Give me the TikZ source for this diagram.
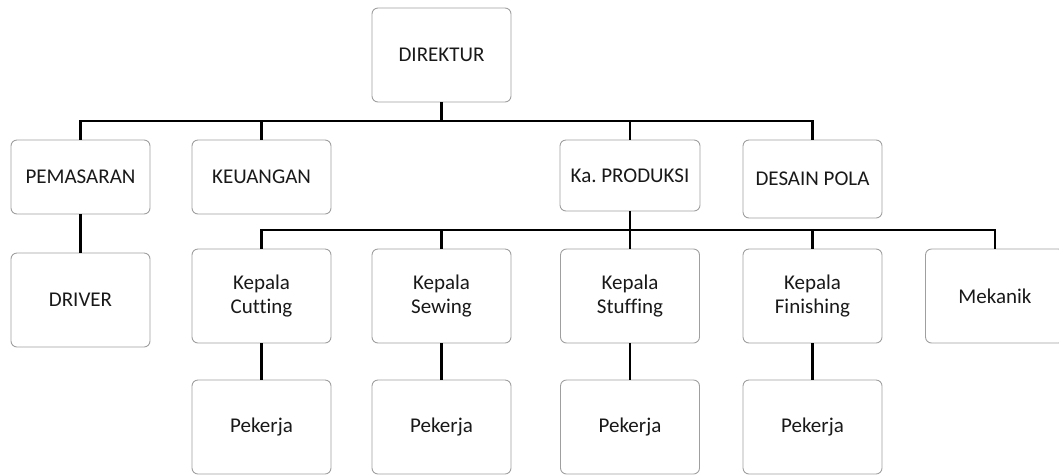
\documentclass[tikz,border=0pt]{standalone}
\usepackage{fontspec}
\setmainfont{Carlito}[Ligatures=NoCommon]
\begin{document}
\begin{tikzpicture}[x=1pt,y=-1pt,
  unit/.style={draw=gray!75,rounded corners=6pt,line width=0.9pt,
    minimum width=139pt,minimum height=94pt,inner sep=2pt,align=center,
    text=black!90,font=\fontsize{21}{24}\selectfont},
  link/.style={line width=2.6pt}]
\clip (0,0) rectangle (1059,475);

\node[unit] (dir) at (441.5,55) {DIREKTUR};
\node[unit,minimum height=74pt] (pem) at (80.5,177) {PEMASARAN};
\node[unit,minimum height=74pt] (keu) at (261.5,177) {KEUANGAN};
\node[unit,minimum width=140pt,minimum height=71pt] (prod) at (630,175.5) {Ka.\ PRODUKSI};
\node[unit,minimum height=78pt] (des) at (812.5,179) {DESAIN POLA};

\node[unit] (drv) at (80.5,300) {DRIVER};
\node[unit] (cut) at (261.5,296) {Kepala\\Cutting};
\node[unit] (sew) at (441.5,296) {Kepala\\Sewing};
\node[unit] (stf) at (630,296) {Kepala\\Stuffing};
\node[unit] (fin) at (812.5,296) {Kepala\\Finishing};
\node[unit] (mek) at (995,296) {Mekanik};

\foreach \x/\n in {261.5/cut,441.5/sew,630/stf,812.5/fin} {
\node[unit] (p\n) at (\x,427) {Pekerja};}

\coordinate (bus1) at (441.5,121);
\coordinate (bus2) at (630,230);

\draw[link] (dir.south) -- (bus1);
\foreach \n in {pem,keu,prod,des} {
\draw[link] (bus1) -| (\n.north);}
\draw[link] (prod.south) -- (bus2);
\foreach \n in {cut,sew,stf,fin,mek} {
\draw[link] (bus2) -| (\n.north);}
\draw[link] (pem) -- (drv);
\foreach \n in {cut,sew,stf,fin} {
\draw[link] (\n) -- (p\n);}

\end{tikzpicture}
\end{document}
